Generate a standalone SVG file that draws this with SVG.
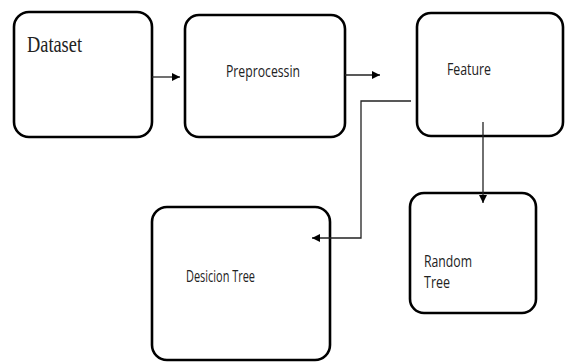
<svg xmlns="http://www.w3.org/2000/svg" width="565" height="363" viewBox="0 0 565 363">
<style>
.box{fill:#fff;stroke:#000;stroke-width:2.6}
.lbl{font-family:"Open Sans","Liberation Sans",sans-serif;font-size:17px;fill:#222}
.ser{font-family:"Liberation Serif",serif;font-size:24px;fill:#222}
.con{fill:none;stroke:#222;stroke-width:1.3}
</style>
<defs>
<marker id="ah" viewBox="0 0 10 10" refX="10" refY="5" markerWidth="8" markerHeight="8" markerUnits="userSpaceOnUse" orient="auto">
<path d="M0,0 L10,5 L0,10 Z" fill="#000"/>
</marker>
</defs>
<rect width="565" height="363" fill="#fff"/>
<g id="dataset">
<rect class="box" x="14" y="12" width="138" height="125" rx="15"/>
<text class="ser" x="27" y="52" textLength="55" lengthAdjust="spacingAndGlyphs">Dataset</text>
</g>
<g id="preprocessin">
<rect class="box" x="185" y="15" width="160" height="122" rx="14"/>
<text class="lbl" x="226" y="77" textLength="74" lengthAdjust="spacingAndGlyphs">Preprocessin</text>
</g>
<g id="feature">
<rect class="box" x="417" y="13" width="146" height="123" rx="14"/>
<text class="lbl" x="447" y="75" textLength="44" lengthAdjust="spacingAndGlyphs">Feature</text>
</g>
<g id="random-tree">
<rect class="box" x="410" y="193" width="126" height="120" rx="14"/>
<text class="lbl" x="424" y="267" textLength="48" lengthAdjust="spacingAndGlyphs">Random</text>
<text class="lbl" x="424" y="288" textLength="26" lengthAdjust="spacingAndGlyphs">Tree</text>
</g>
<g id="decision-tree">
<rect class="box" x="152" y="207" width="178" height="153" rx="15"/>
<text class="lbl" x="186" y="282" textLength="69" lengthAdjust="spacingAndGlyphs">Desicion Tree</text>
</g>
<g id="connectors">
<line class="con" x1="152" y1="77" x2="180" y2="77" marker-end="url(#ah)"/>
<line class="con" x1="345" y1="75" x2="380" y2="75" marker-end="url(#ah)"/>
<polyline class="con" points="411,101 361,101 361,238 312,238" marker-end="url(#ah)"/>
<line class="con" x1="483" y1="122" x2="483" y2="203" marker-end="url(#ah)"/>
</g>
</svg>
